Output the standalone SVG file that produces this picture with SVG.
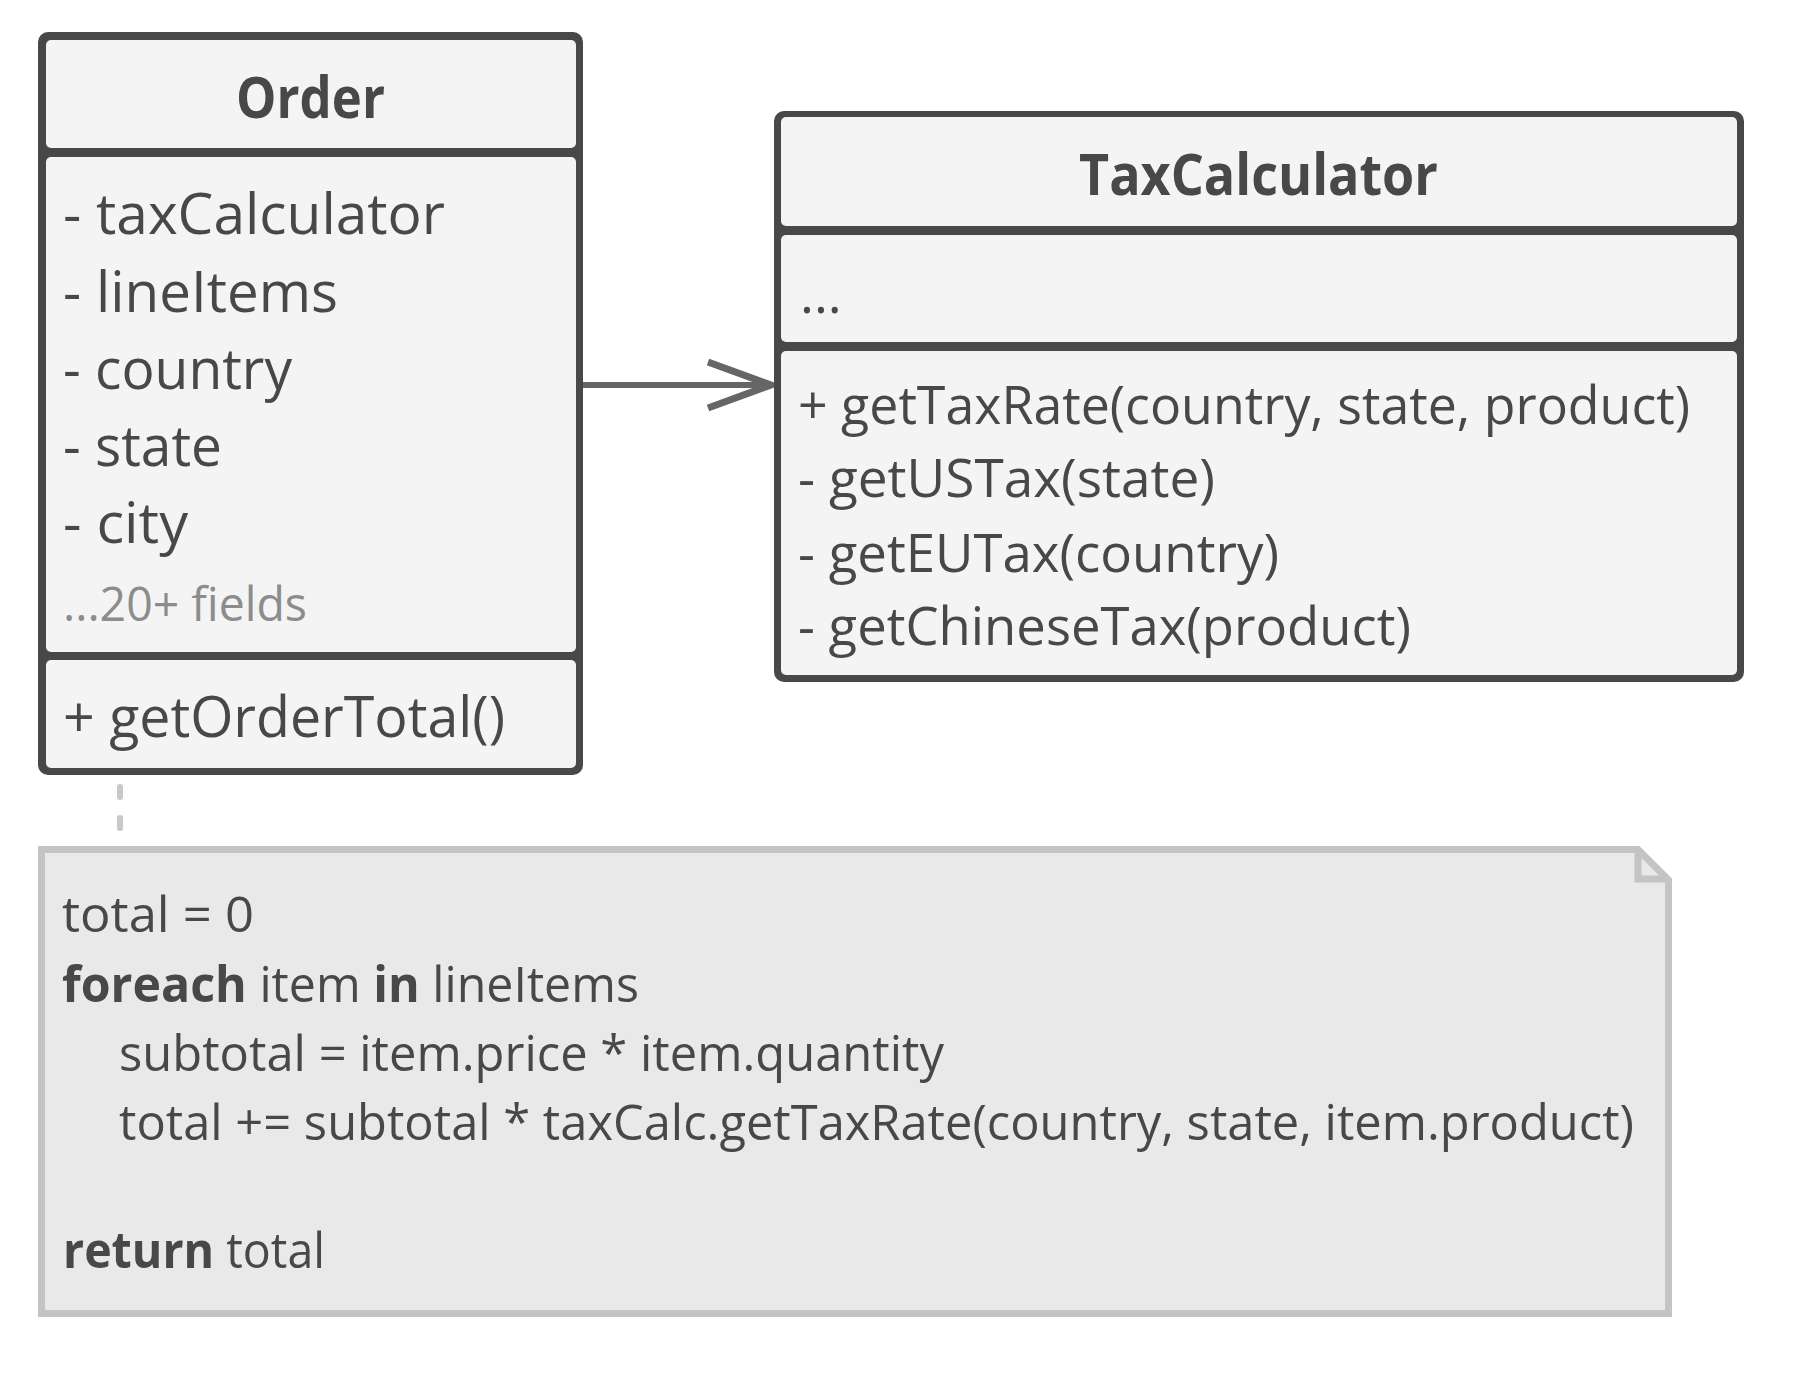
<svg xmlns="http://www.w3.org/2000/svg" width="1805" height="1376" viewBox="0 0 1805 1376">
<style>
.frame{fill:#484848}
.comp{fill:#f4f4f4}
.t{font-family:"Open Sans","Noto Sans","Liberation Sans",sans-serif;fill:#484848}
.title{font-weight:bold;font-size:58px}
.attr{font-size:57px}
.meth{font-size:53px}
.code{font-size:50px}
.b{font-weight:bold}
.dim{fill:#8c8c8c;font-size:47px}
.note{fill:#e9e9e9;stroke:#c4c4c4;stroke-width:7}
</style>
<rect width="1805" height="1376" fill="#ffffff"/>
<g id="connectors">
<line x1="120" y1="787" x2="120" y2="860" stroke="#c8c8c8" stroke-width="6" stroke-linecap="round" stroke-dasharray="10 21"/>
<line x1="583" y1="385" x2="770" y2="385" stroke="#666666" stroke-width="6"/>
<polyline points="708,362 771,385 708,408" fill="none" stroke="#666666" stroke-width="7"/>
</g>
<g id="order">
<rect class="frame" x="38" y="32" width="545" height="743" rx="10"/>
<rect class="comp" x="46" y="40" width="530" height="108" rx="5"/>
<rect class="comp" x="46" y="157" width="530" height="495" rx="5"/>
<rect class="comp" x="46" y="660" width="530" height="108" rx="5"/>
<text class="t title" x="310.5" y="118" text-anchor="middle" textLength="149" lengthAdjust="spacingAndGlyphs">Order</text>
<text class="t attr" x="63" y="234" textLength="382" lengthAdjust="spacingAndGlyphs">- taxCalculator</text>
<text class="t attr" x="63" y="312" textLength="275" lengthAdjust="spacingAndGlyphs">- lineItems</text>
<text class="t attr" x="63" y="389" textLength="229" lengthAdjust="spacingAndGlyphs">- country</text>
<text class="t attr" x="63" y="466" textLength="159" lengthAdjust="spacingAndGlyphs">- state</text>
<text class="t attr" x="63" y="543" textLength="125" lengthAdjust="spacingAndGlyphs">- city</text>
<text class="t dim" x="63" y="621" textLength="244" lengthAdjust="spacingAndGlyphs">...20+ fields</text>
<text class="t attr" x="63" y="737" textLength="442" lengthAdjust="spacingAndGlyphs">+ getOrderTotal()</text>
</g>
<g id="taxcalculator">
<rect class="frame" x="774" y="111" width="970" height="571" rx="10"/>
<rect class="comp" x="781" y="117" width="956" height="109" rx="5"/>
<rect class="comp" x="781" y="235" width="956" height="107" rx="5"/>
<rect class="comp" x="781" y="351" width="956" height="324" rx="5"/>
<text class="t title" x="1258.5" y="195" text-anchor="middle" textLength="359" lengthAdjust="spacingAndGlyphs">TaxCalculator</text>
<text class="t meth" x="800" y="313">...</text>
<text class="t meth" x="798" y="424" textLength="892" lengthAdjust="spacingAndGlyphs">+ getTaxRate(country, state, product)</text>
<text class="t meth" x="798" y="497" textLength="417" lengthAdjust="spacingAndGlyphs">- getUSTax(state)</text>
<text class="t meth" x="798" y="572" textLength="481" lengthAdjust="spacingAndGlyphs">- getEUTax(country)</text>
<text class="t meth" x="798" y="645" textLength="613" lengthAdjust="spacingAndGlyphs">- getChineseTax(product)</text>
</g>
<g id="note">
<path class="note" d="M41.5,849.5 H1638 L1668.5,880 V1313.5 H41.5 Z"/>
<path d="M1638,849.5 V879 H1668.5" fill="none" stroke="#c4c4c4" stroke-width="7"/>
<text class="t code" x="62" y="932" textLength="192" lengthAdjust="spacingAndGlyphs">total = 0</text>
<text class="t code" x="62" y="1002" textLength="577" lengthAdjust="spacingAndGlyphs"><tspan class="b">foreach</tspan> item <tspan class="b">in</tspan> lineItems</text>
<text class="t code" x="119" y="1071" textLength="825" lengthAdjust="spacingAndGlyphs">subtotal = item.price * item.quantity</text>
<text class="t code" x="119" y="1140" textLength="1515" lengthAdjust="spacingAndGlyphs">total += subtotal * taxCalc.getTaxRate(country, state, item.product)</text>
<text class="t code" x="63" y="1268" textLength="262" lengthAdjust="spacingAndGlyphs"><tspan class="b">return</tspan> total</text>
</g>
</svg>
